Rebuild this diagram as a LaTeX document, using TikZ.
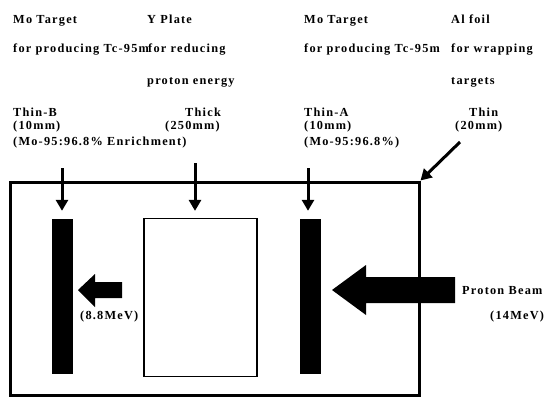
\documentclass[tikz,border=0pt]{standalone}
\usepackage{fontspec}
\setmainfont{Liberation Serif}[LetterSpace=10]
\usetikzlibrary{arrows.meta}
\begin{document}
\begin{tikzpicture}[x=1pt,y=-1pt,
  lbl/.style={anchor=base west,inner sep=0pt,font=\bfseries\fontsize{12.3}{14}\selectfont},
  bar/.style={fill=black,draw=none,inner sep=0pt,minimum width=21pt,minimum height=155pt},
  plate/.style={draw=black,line width=1.2pt,fill=white,inner sep=0pt,minimum width=113pt,minimum height=158pt},
  box/.style={draw=black,line width=3pt,inner sep=0pt,minimum width=409pt,minimum height=213pt},
  pointer/.style={line width=3pt,-{Triangle[width=12pt,length=11pt]}},
  block/.style={fill=black,draw=none}]
\useasboundingbox (0,0) rectangle (547,397);

% captions above the assembly
\node[lbl] (mo1)  at (13,23)  {Mo Target};
\node[lbl] (yp)   at (147,23) {Y Plate};
\node[lbl] (mo2)  at (304,23) {Mo Target};
\node[lbl] (al)   at (451,23) {Al foil};
\node[lbl] (fp1)  at (13,52)  {for producing Tc-95m};
\node[lbl] (fr)   at (148,52) {for reducing};
\node[lbl] (fp2)  at (304,52) {for producing Tc-95m};
\node[lbl] (fw)   at (451,52) {for wrapping};
\node[lbl] (pe)   at (147,84) {proton energy};
\node[lbl] (tg)   at (451,84) {targets};

\node[lbl] (thinB) at (13,116.5)  {Thin-B};
\node[lbl] (thick) at (185,116.5) {Thick};
\node[lbl] (thinA) at (304,116.5) {Thin-A};
\node[lbl] (thin)  at (469,116.5) {Thin};
\node[lbl] (wB) at (13,129.5)  {(10mm)};
\node[lbl] (wY) at (165,129.5) {(250mm)};
\node[lbl] (wA) at (304,129.5) {(10mm)};
\node[lbl] (wF) at (455,129.5) {(20mm)};
\node[lbl] (eB) at (13,145.5)  {(Mo-95:96.8\% Enrichment)};
\node[lbl] (eA) at (304,145.5) {(Mo-95:96.8\%)};

% foil wrapping and targets
\node[box]   (foil)   at (214.5,288.5) {};
\node[bar]   (tB)     at (62,296.5)    {};
\node[plate] (yplate) at (200.5,297.5) {};
\node[bar]   (tA)     at (310.5,296.5) {};

% pointers from the captions
\coordinate (pB) at (62,168);
\coordinate (pY) at (195,163);
\coordinate (pA) at (308,168);
\coordinate (pF) at (460,142);
\draw[pointer,shorten >=8pt] (pB) -- (pB |- tB.north);
\draw[pointer,shorten >=7pt] (pY) -- (pY |- yplate.north);
\draw[pointer,shorten >=8pt] (pA) -- (pA |- tA.north);
\draw[pointer] (pF) -- (foil.north east);

% incoming and outgoing beam
\fill[block] (332,290) -- (366,265) -- (366,277) -- (455,277) -- (455,303) -- (366,303) -- (366,315) -- cycle;
\fill[block] (78,290) -- (95,274) -- (95,282) -- (122,282) -- (122,298) -- (95,298) -- (95,307) -- cycle;

\node[lbl] (pb) at (462,294) {Proton Beam};
\node[lbl] (e14) at (490,319) {(14MeV)};
\node[lbl] (e88) at (80,319) {(8.8MeV)};
\end{tikzpicture}
\end{document}
